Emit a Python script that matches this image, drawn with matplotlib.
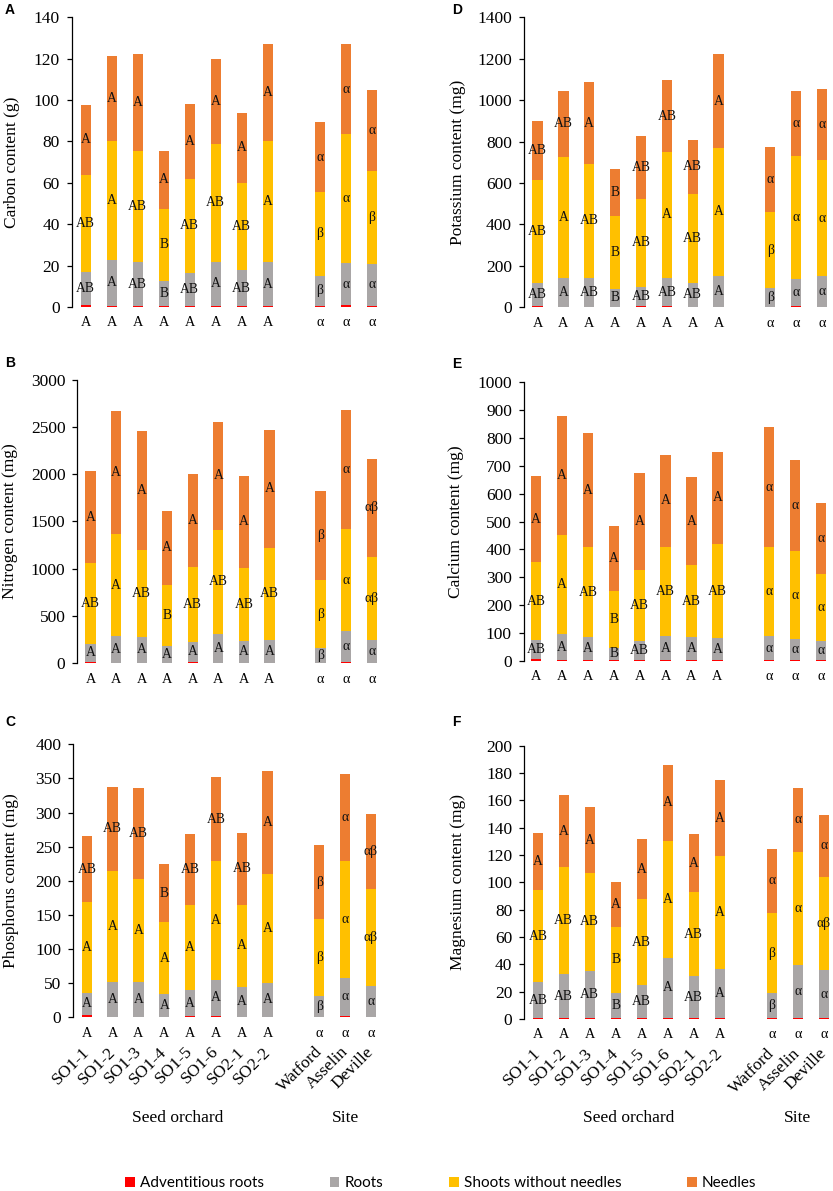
import matplotlib
matplotlib.use('Agg')
import matplotlib.pyplot as plt
from matplotlib import transforms
import numpy as np

plt.rcParams['font.family'] = ['Liberation Serif', 'DejaVu Serif']

# ---------------- data ----------------
categories = ["SO1-1", "SO1-2", "SO1-3", "SO1-4", "SO1-5", "SO1-6", "SO2-1", "SO2-2",
              "Watford", "Asselin", "Deville"]
positions = [0, 1, 2, 3, 4, 5, 6, 7, 9, 10, 11]

# cumulative tops: adventitious, roots top, shoots top, total
carbon_adv = [0.8, 0.4, 0.4, 0.3, 0.6, 0.5, 0.4, 0.3, 0.4, 0.8, 0.4]
carbon_roots_top = [17.0, 22.9, 21.6, 12.6, 16.5, 21.8, 17.9, 21.8, 15.2, 21.2, 21.0]
carbon_shoots_top = [64.0, 80.1, 75.3, 47.4, 61.9, 78.8, 60.1, 80.1, 55.6, 83.6, 65.6]
carbon_total = [97.6, 121.3, 122.1, 75.6, 98.1, 120.0, 93.8, 127.0, 89.2, 127.0, 104.7]

nitrogen_adv = [15, 8, 8, 8, 10, 8, 8, 8, 8, 12, 8]
nitrogen_roots_top = [208, 292, 275, 183, 229, 313, 239, 250, 165, 338, 246]
nitrogen_shoots_top = [1056, 1363, 1201, 831, 1021, 1412, 1011, 1222, 877, 1419, 1127]
nitrogen_total = [2032, 2665, 2454, 1613, 2003, 2556, 1979, 2468, 1820, 2680, 2162]

phosphorus_adv = [3, 1, 1, 1.2, 2, 2, 1, 1, 1, 2, 1]
phosphorus_roots_top = [36.4, 52.4, 52.4, 35.0, 39.8, 55.3, 44.6, 50.5, 32.0, 57.8, 46.1]
phosphorus_shoots_top = [169, 214, 202, 139, 164, 228.5, 164.7, 210.5, 143.6, 228.5, 188]
phosphorus_total = [265.7, 338, 336.5, 224.7, 268.6, 352.6, 270.6, 360.8, 252, 356.2, 297.5]

potassium_adv = [5, 2, 2, 2, 3, 3, 2, 2, 2, 4, 2]
potassium_roots_top = [118, 141, 141, 86, 99, 142, 118, 152, 90, 136, 149]
potassium_shoots_top = [614, 725, 691, 442, 524, 749, 547, 767, 461, 728, 709]
potassium_total = [899, 1045, 1087, 667, 825, 1097, 808, 1221, 773, 1045, 1054]

calcium_adv = [6, 3, 3, 3, 4, 3, 3, 3, 3, 4, 3]
calcium_roots_top = [74, 96.8, 86, 47.8, 73, 88.4, 84.9, 81.3, 88.4, 78.9, 70.5]
calcium_shoots_top = [354, 450.6, 407.6, 251, 327.5, 410, 344, 420.7, 407.6, 394.4, 310.7]
calcium_total = [663, 880, 819, 484, 674, 740, 658.5, 750.6, 839, 720.7, 565]

magnesium_adv = [1, 0.5, 0.5, 0.5, 0.8, 1, 0.5, 0.5, 0.5, 1, 0.5]
magnesium_roots_top = [26.8, 32.9, 35.4, 19.3, 24.6, 44.6, 31.2, 36.6, 18.8, 39.5, 35.9]
magnesium_shoots_top = [94.1, 111.2, 106.8, 67.3, 87.8, 130.2, 93.2, 119, 77.6, 122, 104.1]
magnesium_total = [135.9, 163.9, 154.9, 100, 131.7, 186, 135.1, 175.1, 124.6, 169.3, 149.3]

# significance letters
carbon_needles_let = ["A"] * 8 + ["α", "α", "α"]
carbon_shoots_let = ["AB", "A", "AB", "B", "AB", "AB", "AB", "A", "β", "α", "β"]
carbon_roots_let = ["AB", "A", "AB", "B", "AB", "A", "AB", "A", "β", "α", "α"]

nitrogen_needles_let = ["A"] * 8 + ["β", "α", "αβ"]
nitrogen_shoots_let = ["AB", "A", "AB", "B", "AB", "AB", "AB", "AB", "β", "α", "αβ"]
nitrogen_roots_let = ["A"] * 8 + ["β", "α", "α"]

phosphorus_needles_let = ["AB", "AB", "AB", "B", "AB", "AB", "AB", "A", "β", "α", "αβ"]
phosphorus_shoots_let = ["A"] * 8 + ["β", "α", "αβ"]
phosphorus_roots_let = ["A"] * 8 + ["β", "α", "α"]

potassium_needles_let = ["AB", "AB", "A", "B", "AB", "AB", "AB", "A", "α", "α", "α"]
potassium_shoots_let = ["AB", "A", "AB", "B", "AB", "A", "AB", "A", "β", "α", "α"]
potassium_roots_let = ["AB", "A", "AB", "B", "AB", "AB", "AB", "A", "β", "α", "α"]

calcium_needles_let = ["A"] * 8 + ["α", "α", "α"]
calcium_shoots_let = ["AB", "A", "AB", "B", "AB", "AB", "AB", "AB", "α", "α", "α"]
calcium_roots_let = ["AB", "A", "A", "B", "AB", "A", "A", "A", "α", "α", "α"]

magnesium_needles_let = ["A"] * 8 + ["α", "α", "α"]
magnesium_shoots_let = ["AB", "AB", "AB", "B", "AB", "A", "AB", "A", "β", "α", "αβ"]
magnesium_roots_let = ["AB", "AB", "AB", "B", "AB", "A", "AB", "A", "β", "α", "α"]

total_let = ["A"] * 8 + ["α", "α", "α"]

series_names = ["Adventitious roots", "Roots", "Shoots without needles", "Needles"]
series_colors = ["#FF0000", "#A9A6A6", "#FFC000", "#ED7D31"]

# ---------------- layout ----------------
W, H = 833, 1191
fig = plt.figure(figsize=(W / 100, H / 100), dpi=100)

panels = [
    ("A", "Carbon content (g)",
     (carbon_adv, carbon_roots_top, carbon_shoots_top, carbon_total),
     (carbon_roots_let, carbon_shoots_let, carbon_needles_let),
     140, 20, 71.7, 85.7, 371.7, 307.0, 17.3, 12, (5, 10), False),
    ("B", "Nitrogen content (mg)",
     (nitrogen_adv, nitrogen_roots_top, nitrogen_shoots_top, nitrogen_total),
     (nitrogen_roots_let, nitrogen_shoots_let, nitrogen_needles_let),
     3000, 500, 77.3, 90.5, 371.7, 663.3, 379.5, 10, (5, 363), False),
    ("C", "Phosphorus content (mg)",
     (phosphorus_adv, phosphorus_roots_top, phosphorus_shoots_top, phosphorus_total),
     (phosphorus_roots_let, phosphorus_shoots_let, phosphorus_needles_let),
     400, 50, 73.3, 86.8, 371.0, 1017.4, 744.3, 11, (5, 722.5), True),
    ("D", "Potassium content (mg)",
     (potassium_adv, potassium_roots_top, potassium_shoots_top, potassium_total),
     (potassium_roots_let, potassium_shoots_let, potassium_needles_let),
     1400, 200, 523.7, 537.5, 822.0, 307.1, 17.3, 458, (452, 9.5), False),
    ("E", "Calcium content (mg)",
     (calcium_adv, calcium_roots_top, calcium_shoots_top, calcium_total),
     (calcium_roots_let, calcium_shoots_let, calcium_needles_let),
     1000, 100, 523.7, 536.0, 821.0, 661.0, 382.2, 456, (452, 363.5), False),
    ("F", "Magnesium content (mg)",
     (magnesium_adv, magnesium_roots_top, magnesium_shoots_top, magnesium_total),
     (magnesium_roots_let, magnesium_shoots_let, magnesium_needles_let),
     200, 20, 524.3, 537.8, 823.7, 1019.0, 745.7, 458, (452, 722.5), True),
]

bar_w = 0.4
let_fs = 9.8
tick_fs = 12.5
handles = None

for (tag, ylabel, data, letters, ymax, step, spine, c1, c11, y0, ytop,
     ylab_x, tag_xy, show_x) in panels:
    s = (c11 - c1) / 11.0
    xl = (spine - c1) / s
    xr = 11.45
    left_px = spine
    right_px = c1 + xr * s
    ax = fig.add_axes([left_px / W, 1 - y0 / H, (right_px - left_px) / W, (y0 - ytop) / H])
    ax.set_xlim(xl, xr)
    ax.set_ylim(0, ymax)

    adv, roots_top, shoots_top, total = [np.asarray(d, dtype=float) for d in data]
    roots = roots_top - adv
    shoots = shoots_top - roots_top
    needles = total - shoots_top
    parts = [adv, roots, shoots, needles]
    bottom = np.zeros(len(positions))
    conts = []
    for vals, col, name in zip(parts, series_colors, series_names):
        c = ax.bar(positions, vals, bar_w, bottom=bottom, color=col, label=name,
                   edgecolor='none', linewidth=0)
        conts.append(c)
        bottom = bottom + vals
    if handles is None:
        handles = conts

    roots_let, shoots_let, needles_let = letters
    for i, p in enumerate(positions):
        ax.text(p, (adv[i] + roots_top[i]) / 2, roots_let[i], ha='center', va='center',
                fontsize=let_fs, color='#111111')
        ax.text(p, (roots_top[i] + shoots_top[i]) / 2, shoots_let[i], ha='center', va='center',
                fontsize=let_fs, color='#111111')
        ax.text(p, (shoots_top[i] + total[i]) / 2, needles_let[i], ha='center', va='center',
                fontsize=let_fs, color='#111111')
        ax.annotate(total_let[i], (p, 0), xytext=(0, -11.5), textcoords='offset points',
                    ha='center', va='center', fontsize=let_fs + 0.5, annotation_clip=False)

    for sp in ['top', 'right', 'bottom']:
        ax.spines[sp].set_visible(False)
    ax.spines['left'].set_linewidth(0.9)
    ax.set_yticks(np.arange(0, ymax + step / 2, step))
    ax.tick_params(axis='y', direction='out', length=3.5, width=0.9, pad=5,
                   labelsize=tick_fs)
    ax.set_ylabel(ylabel, fontsize=12.5, va='center')
    ax.yaxis.set_label_coords((ylab_x - left_px) / (right_px - left_px), 0.5)

    if show_x:
        ax.set_xticks(positions)
        ax.set_xticklabels(categories, rotation=45, ha='right', fontsize=12.5)
        ax.tick_params(axis='x', length=0, pad=19)
        off = transforms.ScaledTranslation(6 / 100, 0, fig.dpi_scale_trans)
        for lab in ax.get_xticklabels():
            lab.set_transform(lab.get_transform() + off)
        xc_seed = c1 + 3.5 * s
        xc_site = c1 + 10 * s
        fig.text(xc_seed / W, 1 - 1118 / H, "Seed orchard", ha='center', va='center',
                 fontsize=12.5)
        fig.text(xc_site / W, 1 - 1118 / H, "Site", ha='center', va='center',
                 fontsize=12.5)
    else:
        ax.set_xticks([])

    fig.text(tag_xy[0] / W, 1 - tag_xy[1] / H, tag, ha='left', va='center',
             fontsize=10, fontweight='bold', family=['Liberation Sans', 'DejaVu Sans'])

leg = fig.legend(handles, series_names, loc='center', bbox_to_anchor=(441 / W, 1 - 1183 / H),
                 ncol=4, frameon=False, prop={'family': ['Lato', 'DejaVu Sans'], 'size': 11},
                 handlelength=0.62, handleheight=0.62, handletextpad=0.35, columnspacing=4.3,
                 borderpad=0, borderaxespad=0)

fig.savefig("out.png", dpi=100)
